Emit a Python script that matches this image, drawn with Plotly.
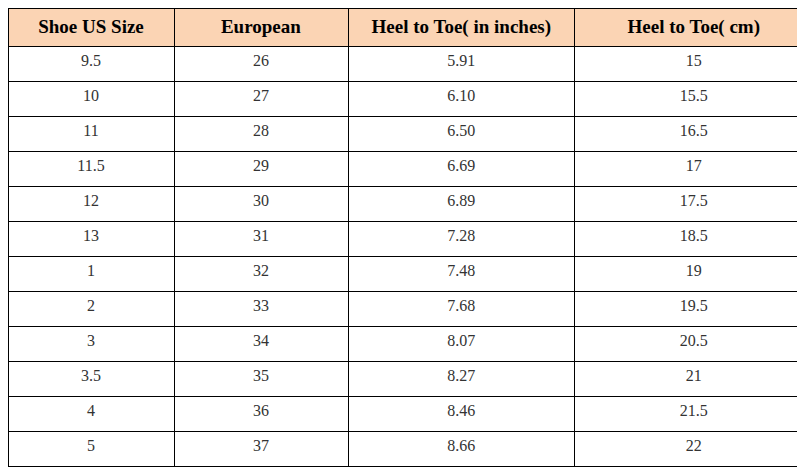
import plotly.graph_objects as go

headers = ["Shoe US Size", "European", "Heel to Toe( in inches)", "Heel to Toe( cm)"]
us_size = ["9.5", "10", "11", "11.5", "12", "13", "1", "2", "3", "3.5", "4", "5"]
european = ["26", "27", "28", "29", "30", "31", "32", "33", "34", "35", "36", "37"]
inches = ["5.91", "6.10", "6.50", "6.69", "6.89", "7.28", "7.48", "7.68", "8.07", "8.27", "8.46", "8.66"]
cm = ["15", "15.5", "16.5", "17", "17.5", "18.5", "19", "19.5", "20.5", "21", "21.5", "22"]

fig = go.Figure(go.Table(
    columnwidth=[165, 173, 225, 237],
    header=dict(values=["<b>%s</b>" % h for h in headers],
                fill_color="#FBD4B4", line_color="black", line_width=1,
                align="center", height=37,
                font=dict(family="Liberation Serif", size=19, color="black")),
    cells=dict(values=[us_size, european, inches, cm],
               fill_color="white", line_color="black", line_width=1,
               align="center", height=35,
               font=dict(family="Liberation Serif", size=16, color="#333333")),
    domain=dict(x=[0, 1], y=[0, 1]),
))

fig.update_layout(width=805, height=467, margin=dict(l=0, r=0, t=0, b=0),
                  paper_bgcolor="white")
fig.write_html("out.html")
